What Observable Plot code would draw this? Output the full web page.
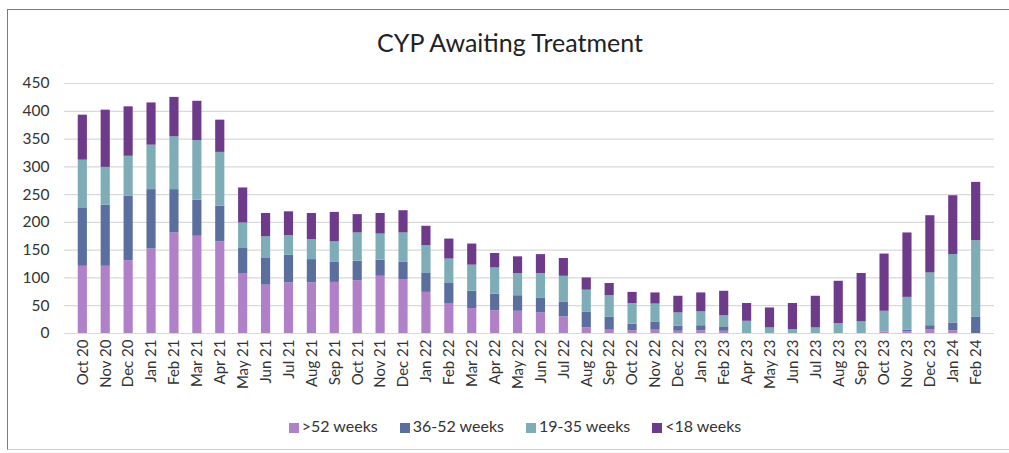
<!DOCTYPE html>
<html>
<head>
<meta charset="utf-8">
<script src="https://cdn.jsdelivr.net/npm/d3@7"></script>
<script src="https://cdn.jsdelivr.net/npm/@observablehq/plot@0.6"></script>
<style>
  html, body { margin: 0; padding: 0; background: #fff; }
  #wrap { position: relative; width: 1009px; height: 453px; overflow: hidden; font-family: Lato, "Open Sans", sans-serif; }
  #frame { position: absolute; left: 7px; top: 9px; width: 1010px; height: 441px; border-left: 1.5px solid #7a7a7a; border-top: 1.5px solid #7a7a7a; border-bottom: 1px solid #d0d0d0; box-sizing: border-box; }
  #title { position: absolute; top: 27px; left: 0; width: 1020px; text-align: center; font-size: 25px; color: #222; }
  #chart { position: absolute; left: 0; top: 0; }
  #legend { position: absolute; top: 416px; left: 0; width: 1030px; text-align: center; font-size: 16px; color: #333; }
  #legend span.item { margin: 0 11px; white-space: nowrap; }
  #legend span.sw { display: inline-block; width: 10px; height: 10px; margin-right: 3px; vertical-align: -1px; }
</style>
</head>
<body>
<div id="wrap">
  <div id="frame"></div>
  <div id="title">CYP Awaiting Treatment</div>
  <div id="chart"></div>
  <div id="legend"></div>
</div>
<script>
const months = ["Oct 20","Nov 20","Dec 20","Jan 21","Feb 21","Mar 21","Apr 21","May 21","Jun 21","Jul 21","Aug 21","Sep 21","Oct 21","Nov 21","Dec 21","Jan 22","Feb 22","Mar 22","Apr 22","May 22","Jun 22","Jul 22","Aug 22","Sep 22","Oct 22","Nov 22","Dec 22","Jan 23","Feb 23","Apr 23","May 23","Jun 23","Jul 23","Aug 23","Sep 23","Oct 23","Nov 23","Dec 23","Jan 24","Feb 24"];
const seriesNames = [">52 weeks","36-52 weeks","19-35 weeks","<18 weeks"];
const seriesColors = ["#b080c9","#5b6f9f","#7eadb7","#6e3b8b"];
const over52  = [121,121,131,152,181,175,165,108,87,91,91,92,95,103,97,74,54,45,41,40,37,30,10,6,5,6,4,5,4,0,0,0,0,0,0,3,3,7,5,0];
const w36to52 = [104,110,116,107,78,65,64,45,48,50,42,36,35,29,31,34,36,31,30,28,27,26,28,23,12,14,9,9,8,0,0,0,0,0,0,0,3,7,14,29];
const w19to35 = [87,68,72,80,95,107,97,46,39,35,36,37,51,47,53,50,44,47,47,40,44,47,40,39,37,33,24,25,20,22,10,7,10,18,21,37,59,95,123,138];
const under18 = [81,103,89,76,71,71,58,63,42,43,47,53,33,37,40,35,36,38,26,30,34,32,22,22,20,20,30,34,44,32,36,47,57,76,87,103,116,103,106,105];
const yTicks = [0,50,100,150,200,250,300,350,400,450];

const seriesValues = [over52, w36to52, w19to35, under18];
const rows = [];
months.forEach((m, i) => {
  seriesNames.forEach((s, j) => rows.push({month: m, series: s, value: seriesValues[j][i]}));
});

const chart = Plot.plot({
  width: 1009,
  height: 400,
  marginTop: 83,
  marginBottom: 67,
  marginLeft: 64,
  marginRight: 15,
  style: {fontFamily: "Lato, 'Open Sans', sans-serif", fontSize: "15px", color: "#333", background: "transparent"},
  x: {domain: months, padding: 0.6, label: null, tickSize: 0, tickRotate: -90, tickPadding: 6},
  y: {domain: [0, 450], ticks: yTicks, label: null, tickSize: 0, tickPadding: 15},
  color: {domain: seriesNames, range: seriesColors},
  marks: [
    Plot.gridY(yTicks, {stroke: "#d9d9d9", strokeOpacity: 1, strokeWidth: 1.2}),
    Plot.barY(rows, Plot.stackY({x: "month", y: "value", fill: "series", order: seriesNames})),
    Plot.axisX({tickSize: 0, tickRotate: -90, tickPadding: 6, fontSize: 15}),
    Plot.axisY({ticks: yTicks, tickSize: 0, tickPadding: 15, fontSize: 15.5})
  ]
});
document.getElementById("chart").appendChild(chart);

const legend = document.getElementById("legend");
seriesNames.forEach((s, j) => {
  const item = document.createElement("span");
  item.className = "item";
  const sw = document.createElement("span");
  sw.className = "sw";
  sw.style.background = seriesColors[j];
  item.appendChild(sw);
  item.appendChild(document.createTextNode(s));
  legend.appendChild(item);
});
</script>
</body>
</html>
